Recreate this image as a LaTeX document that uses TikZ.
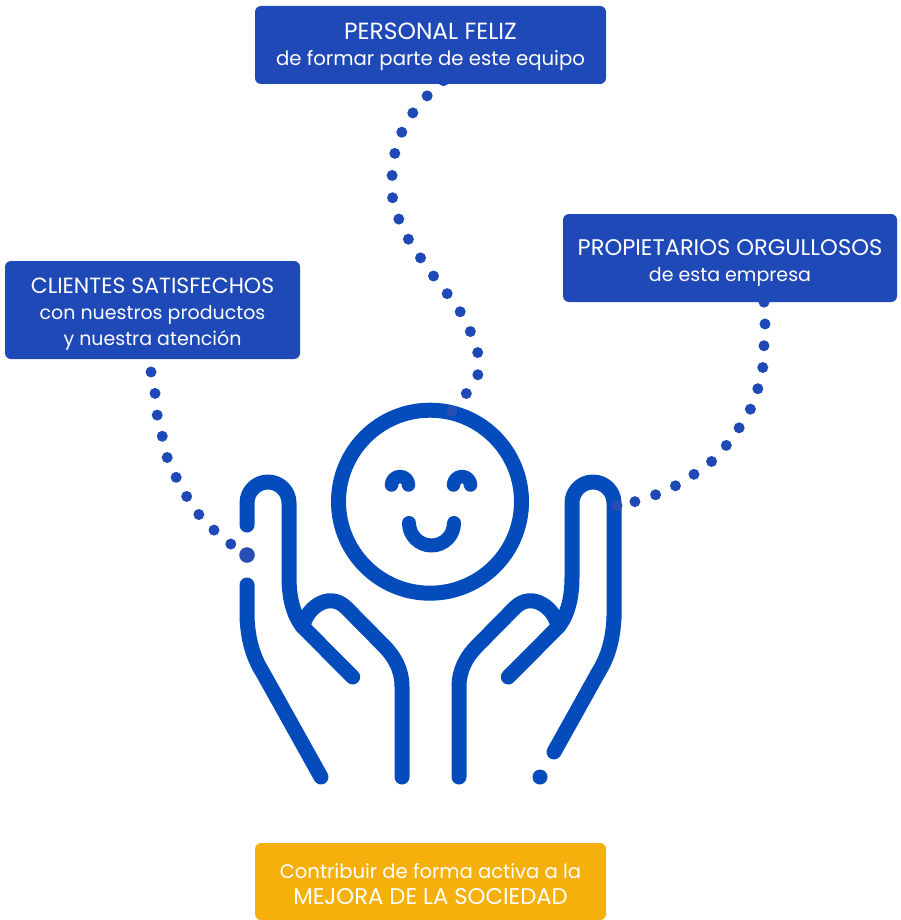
\documentclass[tikz,border=0pt]{standalone}
\usepackage{fontspec}
\setmainfont{Poppins}
\definecolor{boxblue}{HTML}{1F49B6}
\definecolor{handblue}{HTML}{044CBC}
\definecolor{boxgold}{HTML}{F5B00C}
\definecolor{fadedot}{HTML}{2A4DB4}
\pgfdeclarelayer{back}
\pgfsetlayers{back,main}
\newcommand{\boxline}[2]{\fontsize{#1}{26}\selectfont #2}
\newcommand{\toppad}[1]{\rule{0pt}{#1pt}}
\tikzset{
  infobox/.style={fill=boxblue,rounded corners=6pt,inner sep=0pt,align=center,text=white,
    font=\fontsize{19}{26}\selectfont},
  goldbox/.style={infobox,fill=boxgold},
  hand/.style={draw=handblue,line width=15pt,line cap=round,line join=round},
  face/.style={hand,line width=13.5pt},
  dotline/.style={draw=boxblue,line width=11pt,line cap=round,dash pattern=on 0pt off #1},
  blob/.style={fill=fadedot,draw=none}
}
\begin{document}
\begin{tikzpicture}[x=1pt,y=-1pt]
\useasboundingbox (0,0) rectangle (901,920);
\node[infobox,minimum width=351pt,minimum height=78pt] (personal) at (430.5,45) {\toppad{20}\boxline{23.4}{PERSONAL FELIZ}\\\boxline{19.7}{de formar parte de este equipo}};
\node[infobox,minimum width=295pt,minimum height=98pt] (clientes) at (152.5,310) {\toppad{24}\boxline{22}{CLIENTES SATISFECHOS}\\\boxline{19}{con nuestros productos}\\\boxline{19}{y nuestra atención}};
\node[infobox,minimum width=334pt,minimum height=88pt] (propietarios) at (730,258) {\toppad{25}\boxline{22.6}{PROPIETARIOS ORGULLOSOS}\\\boxline{19}{de esta empresa}};
\node[goldbox,minimum width=351pt,minimum height=77pt] (sociedad) at (430.5,881.5) {\toppad{21}\boxline{19.6}{Contribuir de forma activa a la}\\\boxline{22.7}{MEJORA DE LA SOCIEDAD}};
\coordinate (faceTop) at (464,396);
\coordinate (handL) at (232,545);
\coordinate (handR) at (634.7,501.7);
\begin{pgfonlayer}{back}
\draw[dotline=22.3pt] plot[smooth,tension=0.6] coordinates {([xshift=13pt,yshift=3.5pt]personal.south) (427,96) (412,114) (401,134) (394,157) (392,179) (393,201) (400,222) (410,242) (422,260) (435,278) (449,296) (461,313) (471,333) (478,354) (477,378) (faceTop)};
\draw[dotline=21.8pt] plot[smooth,tension=0.6] coordinates {([yshift=9pt,xshift=-1pt]clientes.south) (151,372) (155,393) (157,414) (162,435) (167,457) (176,477) (187,497) (200,516) (215,531) (handL)};
\draw[dotline=21.8pt] plot[smooth,tension=0.6] coordinates {([xshift=34pt]propietarios.south) (765,324) (764,345) (763,366) (758,388) (751,408) (739,428) (725,447) (711,462) (693,475) (675,486) (655,495) (handR)};
\end{pgfonlayer}
% face
\draw[hand] (430,501.7) circle (91.5pt);
\draw[face] (391.5,485) arc[start angle=180,end angle=0,radius=8.5pt];
\draw[face] (453.5,485) arc[start angle=180,end angle=0,radius=8.5pt];
\draw[hand,line width=14pt] (409,523) arc[start angle=180,end angle=360,radius=22.5pt];
% left hand
\draw[hand] (247,525) -- (247,503) arc[start angle=180,end angle=0,radius=21pt] -- (289,577) .. controls (289,597) and (293,615) .. (303,627) -- (352.7,677);
\draw[hand] (303,627) .. controls (305,610) and (328,590) .. (346,607.5) -- (383,645) .. controls (395,657) and (402,670) .. (402,687) -- (402,777);
\draw[hand] (247,585) -- (247,617) .. controls (248,640) and (253,657) .. (263,673) -- (321,777);
% right hand
\draw[hand] (614,617) -- (614,503) arc[start angle=0,end angle=180,radius=21pt] -- (572,577) .. controls (572,597) and (568,615) .. (558,627) -- (508.3,677);
\draw[hand] (558,627) .. controls (556,610) and (533,590) .. (515,607.5) -- (478,645) .. controls (466,657) and (459,670) .. (459,687) -- (459,777);
\draw[hand] (614,617) .. controls (613,640) and (608,657) .. (598,673) -- (554,752);
\fill[handblue] (540,777) circle (7.5pt);
\fill[blob] (247,555) circle (7.8pt);
\fill[blob] (452,411) circle (5.5pt);
\fill[blob] (617,505.7) circle (5.5pt);
\end{tikzpicture}
\end{document}
